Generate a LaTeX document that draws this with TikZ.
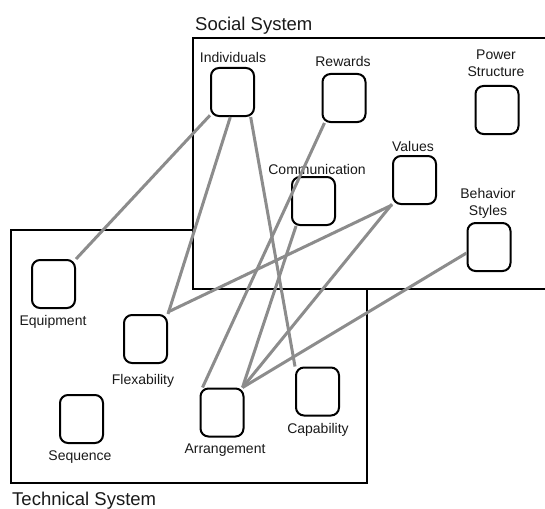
\documentclass[tikz,border=0pt]{standalone}
\usepackage{fontspec}
\setmainfont{Liberation Sans}
\begin{document}
\begin{tikzpicture}[x=1pt,y=-1pt,
  sysbox/.style={draw=black,line width=2pt},
  item/.style={draw=black,fill=white,line width=2pt,rounded corners=8pt,minimum width=43pt,minimum height=48pt,inner sep=0pt},
  lbl/.style={anchor=base,inner sep=0pt,font=\fontsize{14}{18}\selectfont,text=black!90},
  ttl/.style={anchor=base west,inner sep=0pt,font=\fontsize{18.5}{20}\selectfont,text=black!90},
  link/.style={draw=black!45,line width=3pt}]
\useasboundingbox (0,0) rectangle (545,508);
\begin{scope}
\clip (0,0) rectangle (545,508);
% technical system box
\draw[sysbox] (11,230) rectangle (367,483);
% social system box, drawn over
\draw[sysbox,fill=white] (193,38) rectangle (560,289);
\end{scope}
\node[ttl] (tsoc) at (195,31) {Social System};
\node[ttl] (ttec) at (12,505) {Technical System};
% social nodes
\node[item] (indiv) at (232.5,92) {};
\node[item] (rew) at (344,98) {};
\node[item] (pow) at (497,110) {};
\node[item] (comm) at (313.5,201) {};
\node[item] (val) at (414.5,180) {};
\node[item] (beh) at (489,247) {};
% technical nodes
\node[item] (equip) at (53.5,284) {};
\node[item] (flex) at (145.5,339) {};
\node[item] (seq) at (81.5,419) {};
\node[item] (arr) at (222,412.5) {};
\node[item] (cap) at (317.5,391.5) {};
% labels
\node[lbl] (lindiv) at (233,63) {Individuals};
\node[lbl] (lrew) at (343,67) {Rewards};
\node[lbl] (lpow1) at (496,60) {Power};
\node[lbl] (lpow2) at (496,77) {Structure};
\node[lbl] (lcomm) at (317,174) {Communication};
\node[lbl] (lval) at (413,151) {Values};
\node[lbl] (lbeh1) at (488,198) {Behavior};
\node[lbl] (lbeh2) at (488,215) {Styles};
\node[lbl] (lequip) at (53,325) {Equipment};
\node[lbl] (lflex) at (143,384) {Flexability};
\node[lbl] (lseq) at (80,460) {Sequence};
\node[lbl] (larr) at (225,453) {Arrangement};
\node[lbl] (lcap) at (318,433) {Capability};
% connectors
\draw[link] (indiv.-134) -- (equip.north east);
\draw[link] (indiv.-95) -- (flex.north east);
\draw[link] (indiv.-54) -- (cap.north west);
\draw[link] (rew.-128) -- ([xshift=3pt]arr.north west);
\draw[link] (comm.-125) -- ([xshift=-2pt]arr.north east);
\draw[link] (val.south west) -- ([yshift=2pt]flex.north east);
\draw[link] (val.-133) -- ([xshift=-2pt]arr.north east);
\draw[link] (beh.195) -- ([xshift=-2pt]arr.north east);
\end{tikzpicture}
\end{document}
